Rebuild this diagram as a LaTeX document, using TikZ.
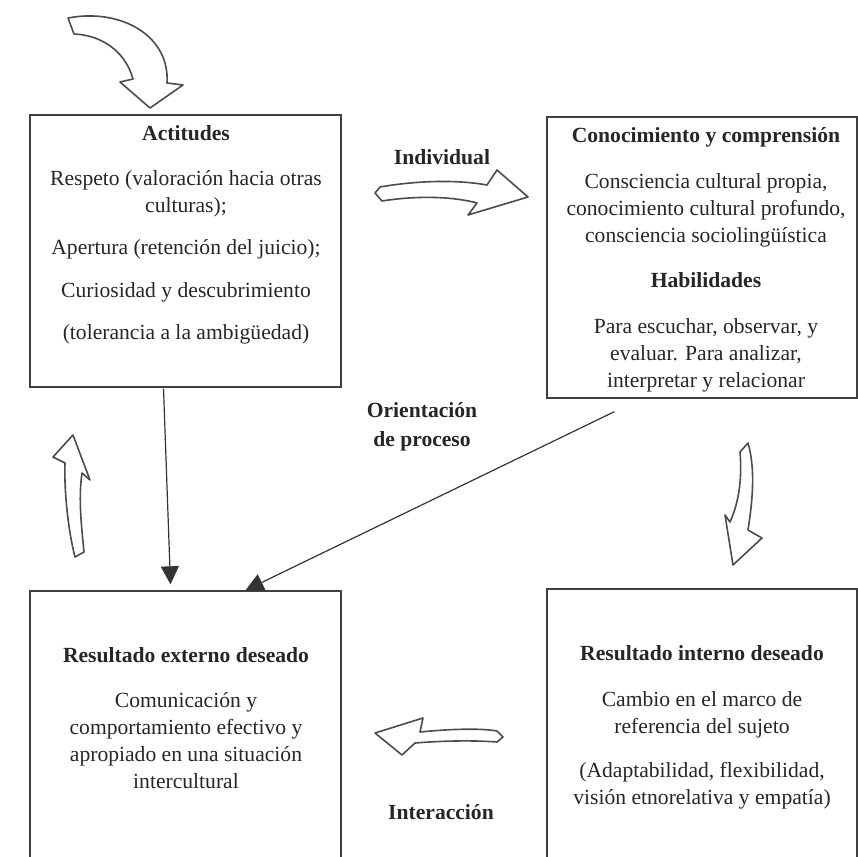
\documentclass[tikz,border=0pt]{standalone}
\usepackage{fontspec}
\setmainfont{Liberation Serif}
\usetikzlibrary{calc}
\usetikzlibrary{arrows.meta, positioning}

\begin{document}
\begin{tikzpicture}[x=0.5pt, y=-0.5pt,
  box/.style={draw=black!75, line width=0.7pt, inner sep=0pt},
  boxtext/.style={anchor=north, align=center, inner sep=0pt, text=black!85,
    font=\fontsize{10.8}{13.5}\selectfont},
  tag/.style={align=center, inner sep=0pt, text=black!85,
    font=\fontsize{10.8}{14.5}\selectfont\bfseries},
  hollow/.style={draw=black!70, line width=0.8pt, fill=white, line join=round},
  link/.style={draw=black!80, line width=0.6pt, -{Triangle[length=9pt,width=9pt]}}]

% Picture frame
\useasboundingbox (0,0) rectangle (858,857);
\clip (0,0) rectangle (858,857);

% The four boxes
\node[box, minimum width=155.5pt, minimum height=136pt] (actitudes) at (185.5,251) {};
\node[box, minimum width=155pt, minimum height=140.5pt] (conoc) at (702,257.5) {};
\node[box, minimum width=155.5pt, minimum height=144.5pt] (externo) at (185.5,735.5) {};
\node[box, minimum width=155pt, minimum height=145.5pt] (interno) at (702,734.5) {};

% Texts in the boxes
\node[boxtext] (actT) at (186,125) {\textbf{Actitudes}\\[9pt]
  Respeto (valoración hacia otras\\ culturas);\\[7.5pt]
  Apertura (retención del juicio);\\[8pt]
  Curiosidad y descubrimiento\\[7.5pt]
  (tolerancia a la ambigüedad)};
\node[boxtext] (conocT) at (706,127) {\textbf{Conocimiento y comprensión}\\[9.5pt]
  Consciencia cultural propia,\\ conocimiento cultural profundo,\\ consciencia sociolingüística\\[9pt]
  \textbf{Habilidades}\\[9.5pt]
  Para escuchar, observar, y\\ evaluar. Para analizar,\\ interpretar y relacionar};
\node[boxtext] (externoT) at (186,647) {\textbf{Resultado externo deseado}\\[9pt]
  Comunicación y\\ comportamiento efectivo y\\ apropiado en una situación\\ intercultural};
\node[boxtext] (internoT) at (702,645) {\textbf{Resultado interno deseado}\\[9.5pt]
  Cambio en el marco de\\ referencia del sujeto\\[8.5pt]
  (Adaptabilidad, flexibilidad,\\ visión etnorelativa y empatía)};

% Labels between the boxes
\node[tag] (individual) at (442,157) {Individual};
\node[tag] (orient) at (422,427) {Orientación\\de proceso};
\node[tag] (interaccion) at (441,812) {Interacción};

% Thin connectors
\draw[link] ($(actitudes.south)+(-22,1)$) -- ($(externo.north)+(-15,-6)$);
\draw[link] ($(conoc.south west)+(68,13)$) -- ($(externo.north)+(60,0)$);

% Hollow block arrows
\draw[hollow] (68,18) .. controls (120,8) and (170,35) .. (167,83) -- (183,85) -- (150,108)
  -- (120,82) -- (133,79) .. controls (125,50) and (100,35) .. (74,34) -- cycle;
\draw[hollow] (375,193) -- (380,187) .. controls (420,180) and (460,180) .. (487,185)
  -- (497,170) -- (528,197) -- (468,215) -- (477,203)
  .. controls (455,197) and (420,195) .. (382,201) -- cycle;
\draw[hollow] (740,452) -- (748,443) .. controls (756,470) and (752,505) .. (748,530)
  -- (762,538) -- (733,565) -- (725,515) -- (730,522)
  .. controls (740,500) and (742,475) .. (740,452) -- cycle;
\draw[hollow] (375,733) -- (423,718) -- (420,732) .. controls (450,729) and (480,728) .. (497,731)
  -- (503,737) -- (497,742) .. controls (470,740) and (440,741) .. (415,743) -- (402,755) -- cycle;
\draw[hollow] (73,435) -- (90,480) -- (82,473) .. controls (78,500) and (82,530) .. (84,552)
  -- (75,557) .. controls (68,530) and (64,490) .. (65,463) -- (53,457) -- cycle;

\end{tikzpicture}
\end{document}
